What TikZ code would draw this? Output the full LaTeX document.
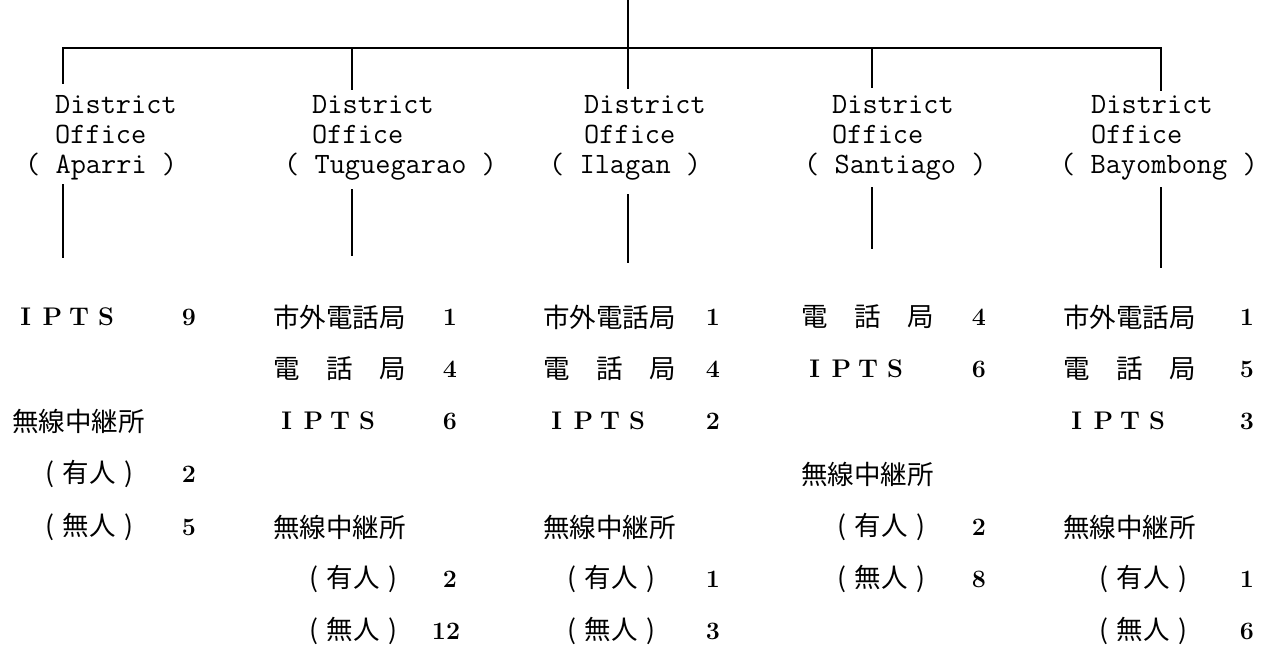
\documentclass[tikz,border=0pt]{standalone}
\usepackage{fontspec}
\newfontfamily\cjk{Noto Sans CJK JP}
\newcommand\cellw{26.8pt}
\newcommand\cc[1]{\makebox[\cellw][c]{#1}}
\newcommand\paren[1]{\cc{(}#1\cc{)}}
\begin{document}
\begin{tikzpicture}[x=1pt,y=-1pt,
  wire/.style={line width=2.2pt, line cap=rect},
  dtext/.style={font=\ttfamily\fontsize{29.5}{30}\selectfont, anchor=base west, inner sep=0pt},
  jlabel/.style={font=\cjk\fontsize{26.5}{28}\selectfont, anchor=west, inner sep=0pt},
  num/.style={font=\bfseries\fontsize{25}{27}\selectfont, anchor=center, inner sep=0pt},
  ipts/.style={font=\bfseries\fontsize{25.5}{27}\selectfont, anchor=west, inner sep=0pt}]
\useasboundingbox (0,0) rectangle (1269,648);
\fill[white] (0,0) rectangle (1269,648);

% ---------- connectors ----------
\coordinate (root) at (628,0);
\coordinate (j1) at (63,48);
\coordinate (j2) at (352,48);
\coordinate (j3) at (628,48);
\coordinate (j4) at (872,48);
\coordinate (j5) at (1161,48);
\coordinate (t1) at (63,83);
\coordinate (t2) at (352,89);
\coordinate (t3) at (628,88);
\coordinate (t4) at (872,87);
\coordinate (t5) at (1161,90);
\coordinate (s1) at (63,185);
\coordinate (s2) at (352,190);
\coordinate (s3) at (628,195);
\coordinate (s4) at (872,188);
\coordinate (s5) at (1161,188);
\coordinate (b1) at (63,257);
\coordinate (b2) at (352,255);
\coordinate (b3) at (628,262);
\coordinate (b4) at (872,248);
\coordinate (b5) at (1161,267);

\draw[wire] (root) -- (j3);
\draw[wire] (t1) -- (j1) -- (j5) -- (t5);
\draw[wire] (j2) -- (t2);
\draw[wire] (j3) -- (t3);
\draw[wire] (j4) -- (t4);
\draw[wire] (s1) -- (b1);
\draw[wire] (s2) -- (b2);
\draw[wire] (s3) -- (b3);
\draw[wire] (s4) -- (b4);
\draw[wire] (s5) -- (b5);

% ---------- district offices ----------
\node[dtext] (d1a) at (55,113) {District};
\node[dtext] (d1b) at (55,143) {Office};
\node[dtext] (d1c) at (25,173) {( Aparri )};
\node[dtext] (d2a) at (312,113) {District};
\node[dtext] (d2b) at (312,143) {Office};
\node[dtext] (d2c) at (284,173) {( Tuguegarao )};
\node[dtext] (d3a) at (584,113) {District};
\node[dtext] (d3b) at (584,143) {Office};
\node[dtext] (d3c) at (549,173) {( Ilagan )};
\node[dtext] (d4a) at (832,113) {District};
\node[dtext] (d4b) at (832,143) {Office};
\node[dtext] (d4c) at (804,173) {( Santiago )};
\node[dtext] (d5a) at (1091,113) {District};
\node[dtext] (d5b) at (1091,143) {Office};
\node[dtext] (d5c) at (1060,173) {( Bayombong )};

% ---------- Aparri ----------
\node[ipts]   (a1) at (12,317) {\cc{I}\cc{P}\cc{T}\cc{S}};
\node[num]    (a1n) at (189,317) {9};
\node[jlabel] (a3) at (12,421) {無線中継所};
\node[jlabel] (a4) at (36,474) {\paren{有人}};
\node[num]    (a4n) at (189,474) {2};
\node[jlabel] (a5) at (36,527) {\paren{無人}};
\node[num]    (a5n) at (189,527) {5};

% ---------- Tuguegarao ----------
\node[jlabel] (b1l) at (273,317) {市外電話局};
\node[num]    (b1n) at (450,317) {1};
\node[jlabel] (b2l) at (273,369) {電　話　局};
\node[num]    (b2n) at (450,369) {4};
\node[ipts]   (b3l) at (273,421) {\cc{I}\cc{P}\cc{T}\cc{S}};
\node[num]    (b3n) at (450,421) {6};
\node[jlabel] (b5l) at (273,527) {無線中継所};
\node[jlabel] (b6l) at (300,579) {\paren{有人}};
\node[num]    (b6n) at (450,579) {2};
\node[jlabel] (b7l) at (300,631) {\paren{無人}};
\node[num]    (b7n) at (446,631) {12};

% ---------- Ilagan ----------
\node[jlabel] (c1l) at (543,317) {市外電話局};
\node[num]    (c1n) at (713,317) {1};
\node[jlabel] (c2l) at (543,369) {電　話　局};
\node[num]    (c2n) at (713,369) {4};
\node[ipts]   (c3l) at (543,421) {\cc{I}\cc{P}\cc{T}\cc{S}};
\node[num]    (c3n) at (713,421) {2};
\node[jlabel] (c5l) at (543,527) {無線中継所};
\node[jlabel] (c6l) at (558,579) {\paren{有人}};
\node[num]    (c6n) at (713,579) {1};
\node[jlabel] (c7l) at (558,631) {\paren{無人}};
\node[num]    (c7n) at (713,631) {3};

% ---------- Santiago ----------
\node[jlabel] (e1l) at (801,317) {電　話　局};
\node[num]    (e1n) at (979,317) {4};
\node[ipts]   (e2l) at (801,369) {\cc{I}\cc{P}\cc{T}\cc{S}};
\node[num]    (e2n) at (979,369) {6};
\node[jlabel] (e4l) at (801,474) {無線中継所};
\node[jlabel] (e5l) at (828,527) {\paren{有人}};
\node[num]    (e5n) at (979,527) {2};
\node[jlabel] (e6l) at (828,579) {\paren{無人}};
\node[num]    (e6n) at (979,579) {8};

% ---------- Bayombong ----------
\node[jlabel] (f1l) at (1063,317) {市外電話局};
\node[num]    (f1n) at (1247,317) {1};
\node[jlabel] (f2l) at (1063,369) {電　話　局};
\node[num]    (f2n) at (1247,369) {5};
\node[ipts]   (f3l) at (1063,421) {\cc{I}\cc{P}\cc{T}\cc{S}};
\node[num]    (f3n) at (1247,421) {3};
\node[jlabel] (f5l) at (1063,527) {無線中継所};
\node[jlabel] (f6l) at (1090,579) {\paren{有人}};
\node[num]    (f6n) at (1247,579) {1};
\node[jlabel] (f7l) at (1090,631) {\paren{無人}};
\node[num]    (f7n) at (1247,631) {6};
\end{tikzpicture}
\end{document}
